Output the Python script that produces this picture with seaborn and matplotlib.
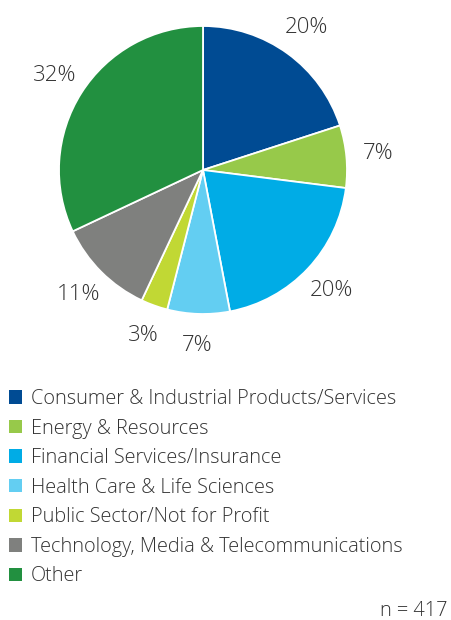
import matplotlib
matplotlib.use("Agg")
import matplotlib.pyplot as plt
from matplotlib.patches import Patch
import seaborn as sns

# Industry breakdown of respondents
categories = [
    "Consumer & Industrial Products/Services",
    "Energy & Resources",
    "Financial Services/Insurance",
    "Health Care & Life Sciences",
    "Public Sector/Not for Profit",
    "Technology, Media & Telecommunications",
    "Other",
]
shares = [20, 7, 20, 7, 3, 11, 32]
colors = ["#004B93", "#97C94A", "#00ACE6", "#63CEF2", "#C1D834", "#7F807E", "#229040"]
sample_note = "n = 417"

sns.set_theme(style="white")
plt.rcParams["font.family"] = ["Open Sans", "DejaVu Sans"]
plt.rcParams["font.weight"] = "light"
text_color = "#333333"
fs_pct = 16
fs_leg = 14.35

W, H = 451, 620
fig = plt.figure(figsize=(W / 100, H / 100), dpi=100)
fig.patch.set_facecolor("white")

cx, cy, r = 203, 170, 144
ax = fig.add_axes([(cx - r) / W, (H - cy - r) / H, 2 * r / W, 2 * r / H])
wedges, _, autotexts = ax.pie(
    shares,
    colors=sns.color_palette(colors),
    startangle=90,
    counterclock=False,
    autopct=lambda p: f"{p:.0f}%",
    pctdistance=1.22,
    wedgeprops=dict(edgecolor="white", linewidth=1.3),
    textprops=dict(fontsize=fs_pct, color=text_color),
)
ax.set_xlim(-1, 1)
ax.set_ylim(-1, 1)
ax.set_axis_off()

handles = [Patch(facecolor=c, edgecolor="none") for c in colors]
fig.legend(
    handles, categories,
    loc="upper left",
    bbox_to_anchor=(5 / W, 1 - 385 / H),
    frameon=False,
    fontsize=fs_leg,
    labelcolor=text_color,
    handlelength=0.66,
    handleheight=0.66,
    handletextpad=0.45,
    labelspacing=0.48,
    borderpad=0.2,
    borderaxespad=0,
)

fig.text(448 / W, 1 - 611 / H, sample_note, ha="right", va="center",
         fontsize=fs_leg, color=text_color)

fig.savefig("out.png", dpi=100, facecolor="white")
